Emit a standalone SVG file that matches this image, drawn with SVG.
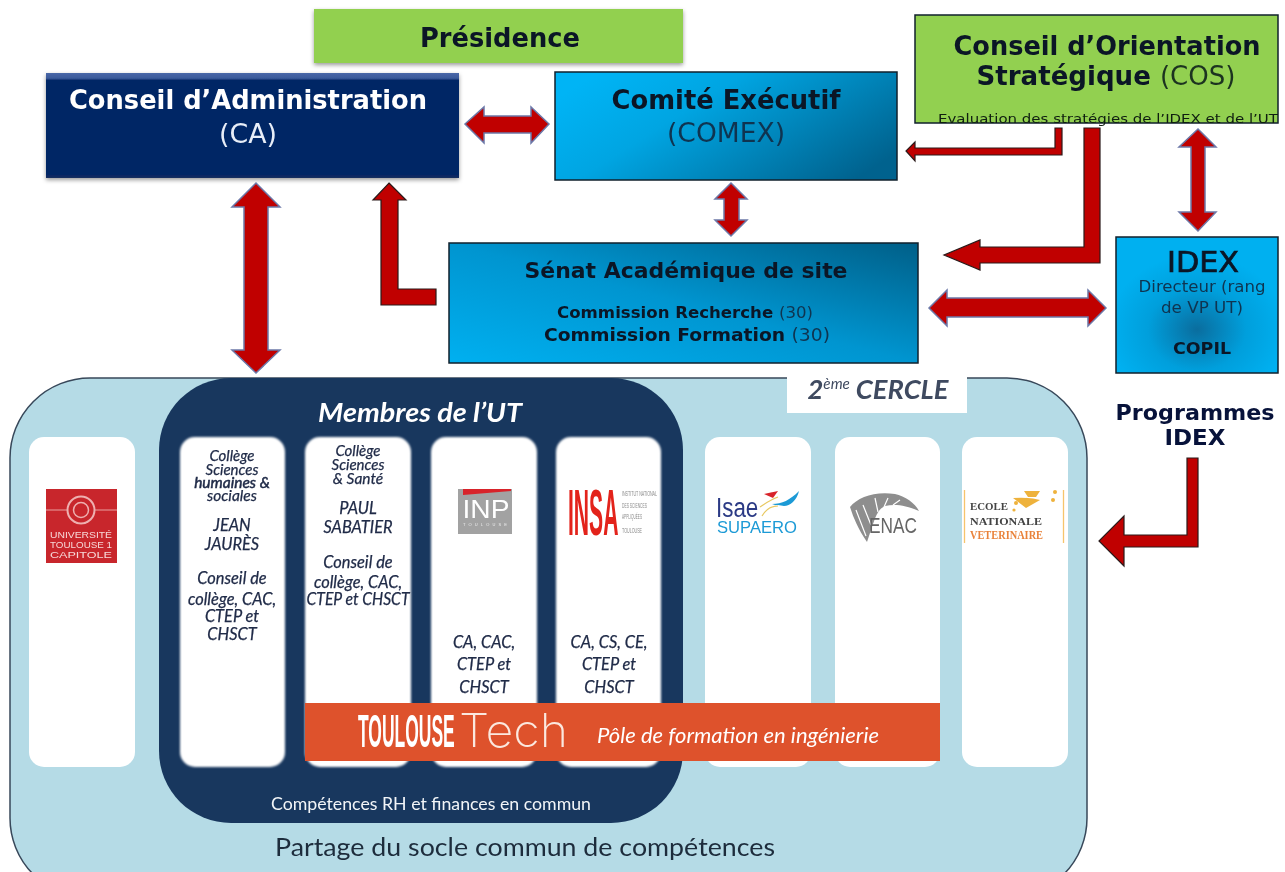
<svg xmlns="http://www.w3.org/2000/svg" width="1285" height="872" viewBox="0 0 1285 872">
<style>
.h{font-family:"DejaVu Sans",Verdana,sans-serif;font-weight:700;fill:#0b1626;text-anchor:middle}
.n{font-family:"DejaVu Sans",Verdana,sans-serif;font-weight:400;fill:#0f3450;text-anchor:middle}
.l{font-family:Lato,"Open Sans",sans-serif;font-style:italic;fill:#202b48;stroke:#202b48;stroke-width:.25;text-anchor:middle;font-size:16.400px}
.t{font-family:Lato,"Open Sans",sans-serif;text-anchor:middle}
.s{font-family:"Liberation Sans",sans-serif}
.card{fill:#fff}
.aB{fill:#c00000;stroke:#6c78a8;stroke-width:1.5;stroke-linejoin:miter}
.aD{fill:#c00000;stroke:#2a1a1a;stroke-width:1.2;stroke-linejoin:miter}
.box{stroke:#10202c;stroke-width:1.5}
</style>
<defs>
<filter id="soft" filterUnits="userSpaceOnUse" x="0" y="0" width="1285" height="872" color-interpolation-filters="sRGB"><feGaussianBlur stdDeviation=".45"/></filter>
<filter id="sh" x="-5%" y="-10%" width="110%" height="125%"><feDropShadow dx="0" dy="2" stdDeviation="2" flood-color="#000" flood-opacity=".4"/></filter>
<filter id="glow" x="-10%" y="-10%" width="120%" height="120%"><feGaussianBlur stdDeviation="1"/></filter>
<linearGradient id="gC" x1="0" y1="0.25" x2="1" y2="0.75"><stop offset="0" stop-color="#00b4f5"/><stop offset=".35" stop-color="#00a5e2"/><stop offset="1" stop-color="#00628e"/></linearGradient>
<linearGradient id="gS" x1="1" y1="0" x2="0" y2="1"><stop offset="0" stop-color="#005f88"/><stop offset=".5" stop-color="#0095d0"/><stop offset="1" stop-color="#00b0f0"/></linearGradient>
<radialGradient id="gI" cx=".5" cy=".68" r=".55"><stop offset="0" stop-color="#0a6d9e"/><stop offset=".55" stop-color="#009fdc"/><stop offset="1" stop-color="#00b0f0"/></radialGradient>
<linearGradient id="gA" x1="0" y1="0" x2="0" y2="1"><stop offset="0" stop-color="#4a68a8"/><stop offset=".05" stop-color="#3a5a9a"/><stop offset=".07" stop-color="#042565"/><stop offset=".97" stop-color="#042565"/><stop offset="1" stop-color="#16305f"/></linearGradient>
</defs>
<g id="diagram" filter="url(#soft)">
<rect width="1285" height="872" fill="#fff"/>
<g id="presidence">
<rect x="314" y="9" width="369" height="54" fill="#92d050" filter="url(#sh)"/>
<text class="h" x="500" y="47" font-size="26" textLength="160" lengthAdjust="spacingAndGlyphs">Présidence</text>
</g>
<g id="ca">
<rect x="46" y="73" width="413" height="105" fill="url(#gA)" filter="url(#sh)"/>
<text class="h" x="248" y="109" font-size="27" style="fill:#fff" textLength="358" lengthAdjust="spacingAndGlyphs">Conseil d’Administration</text>
<text class="n" x="248" y="143" font-size="27" style="fill:#e8eef8" textLength="58" lengthAdjust="spacingAndGlyphs">(CA)</text>
</g>
<g id="comex">
<rect class="box" x="555" y="72" width="342" height="108" fill="url(#gC)"/>
<text class="h" x="726" y="109" font-size="27" textLength="229" lengthAdjust="spacingAndGlyphs">Comité Exécutif</text>
<text class="n" x="726" y="142" font-size="27" textLength="118" lengthAdjust="spacingAndGlyphs">(COMEX)</text>
</g>
<g id="cos">
<rect class="box" x="915" y="15" width="363" height="108" fill="#92d050"/>
<text class="h" x="1107" y="55" font-size="27" textLength="307" lengthAdjust="spacingAndGlyphs">Conseil d’Orientation</text>
<text x="1106" y="85" font-size="27" class="h" textLength="259" lengthAdjust="spacingAndGlyphs">Stratégique <tspan font-weight="400" fill="#1c3320">(COS)</tspan></text>
<text class="n" x="1108" y="123" font-size="13" style="fill:#0f1e10" textLength="340" lengthAdjust="spacingAndGlyphs">Evaluation des stratégies de l’IDEX et de l’UT</text>
</g>
<g id="senat">
<rect class="box" x="449" y="243" width="469" height="120" fill="url(#gS)"/>
<text class="h" x="686" y="278" font-size="21" textLength="323" lengthAdjust="spacingAndGlyphs">Sénat Académique de site</text>
<text class="h" x="685" y="318" font-size="15" textLength="256" lengthAdjust="spacingAndGlyphs">Commission Recherche <tspan font-weight="400" fill="#0f3450">(30)</tspan></text>
<text class="h" x="687" y="341" font-size="17" textLength="286" lengthAdjust="spacingAndGlyphs">Commission Formation <tspan font-weight="400" fill="#0f3450">(30)</tspan></text>
</g>
<g id="idex">
<rect class="box" x="1116" y="237" width="162" height="136" fill="url(#gI)"/>
<text class="n" x="1203" y="272" font-size="28" style="fill:#0b1626;stroke:#0b1626;stroke-width:.7" textLength="72" lengthAdjust="spacingAndGlyphs">IDEX</text>
<text class="n" x="1202" y="292" font-size="15" textLength="127" lengthAdjust="spacingAndGlyphs">Directeur (rang</text>
<text class="n" x="1202" y="313" font-size="15" textLength="82" lengthAdjust="spacingAndGlyphs">de VP UT)</text>
<text class="h" x="1202" y="354" font-size="15" textLength="58" lengthAdjust="spacingAndGlyphs">COPIL</text>
</g>
<g id="programmes-idex">
<text class="h" x="1195" y="420" font-size="21" style="fill:#07123a" textLength="159" lengthAdjust="spacingAndGlyphs">Programmes</text>
<text class="h" x="1195" y="445" font-size="21" style="fill:#07123a" textLength="61" lengthAdjust="spacingAndGlyphs">IDEX</text>
</g>

<g id="cercle">
<rect x="10" y="378" width="1077" height="520" rx="80" fill="#b5dbe6" stroke="#38485a" stroke-width="1.5"/>
<rect x="787" y="370" width="180" height="43" fill="#fff"/>
<text class="t" x="878" y="399" font-size="27" font-style="italic" font-weight="700" fill="#3f4a60" textLength="141" lengthAdjust="spacingAndGlyphs">2<tspan font-size="15" dy="-10" font-weight="400">ème</tspan><tspan dy="10"> CERCLE</tspan></text>
<text class="t" x="525" y="856" font-size="25" fill="#1d2c3c" textLength="500" lengthAdjust="spacingAndGlyphs">Partage du socle commun de compétences</text>
</g>
<g id="membres">
<rect x="159" y="378" width="524" height="445" rx="72" fill="#18375e"/>
<text class="t" x="420" y="422" font-size="27" font-style="italic" font-weight="700" fill="#fff" textLength="204" lengthAdjust="spacingAndGlyphs">Membres de l’UT</text>
<text class="t" x="431" y="810" font-size="17" fill="#f2f5f8" textLength="320" lengthAdjust="spacingAndGlyphs">Compétences RH et finances en commun</text>
</g>

<g id="ut1">
<rect class="card" x="29" y="437" width="106" height="330" rx="15"/>
<rect x="46" y="489" width="71" height="74" fill="#c8262c"/>
<path d="M46 510H117" stroke="#e9a0a0" stroke-width="1"/>
<circle cx="81" cy="510" r="13.500" fill="#c8262c" stroke="#eeb0b0" stroke-width="2"/>
<circle cx="81" cy="510" r="7.500" fill="none" stroke="#eeb0b0" stroke-width="1.500"/>
<g class="s" fill="#f6d8d8" font-size="9.500" text-anchor="middle">
<text x="81" y="538" textLength="62" lengthAdjust="spacingAndGlyphs">UNIVERSITÉ</text>
<text x="81" y="548" textLength="62" lengthAdjust="spacingAndGlyphs">TOULOUSE 1</text>
<text x="81" y="558" textLength="62" lengthAdjust="spacingAndGlyphs">CAPITOLE</text>
</g>
</g>
<g id="jean-jaures">
<rect x="180" y="437" width="105" height="330" rx="15" fill="#fff" filter="url(#glow)"/>
<text class="l" x="232" y="461" style="font-size:15px">Collège</text>
<text class="l" x="232" y="475" style="font-size:15px">Sciences</text>
<text class="l" x="232" y="488" style="font-size:15.500px;stroke-width:.5">humaines &amp;</text>
<text class="l" x="232" y="501" style="font-size:15.500px">sociales</text>
<text class="l" x="232" y="531">JEAN</text>
<text class="l" x="232" y="550">JAURÈS</text>
<text class="l" x="232" y="584">Conseil de</text>
<text class="l" x="232" y="605">collège, CAC,</text>
<text class="l" x="232" y="622">CTEP et</text>
<text class="l" x="232" y="640">CHSCT</text>
</g>
<g id="paul-sabatier">
<rect x="305" y="437" width="106" height="330" rx="15" fill="#fff" filter="url(#glow)"/>
<text class="l" x="358" y="456" style="font-size:15px">Collège</text>
<text class="l" x="358" y="470" style="font-size:15px">Sciences</text>
<text class="l" x="358" y="484" style="font-size:15.500px">&amp; Santé</text>
<text class="l" x="358" y="514">PAUL</text>
<text class="l" x="358" y="533">SABATIER</text>
<text class="l" x="358" y="568">Conseil de</text>
<text class="l" x="358" y="588">collège, CAC,</text>
<text class="l" x="358" y="605" textLength="103" lengthAdjust="spacingAndGlyphs">CTEP et CHSCT</text>
</g>
<g id="inp">
<rect x="431" y="437" width="106" height="330" rx="15" fill="#fff" filter="url(#glow)"/>
<rect x="458" y="489" width="54" height="45" fill="#a2a2a2"/>
<path d="M463 489H511V491L463 495Z" fill="#d8232a"/>
<text class="s" x="486" y="518" font-size="25" fill="#fff" text-anchor="middle" textLength="47" lengthAdjust="spacingAndGlyphs">INP</text>
<text class="s" x="485" y="526" font-size="4" fill="#eee" text-anchor="middle" textLength="44">TOULOUSE</text>
<text class="l" x="484" y="648">CA, CAC,</text>
<text class="l" x="484" y="670">CTEP et</text>
<text class="l" x="484" y="693">CHSCT</text>
</g>
<g id="insa">
<rect x="556" y="437" width="105" height="330" rx="15" fill="#fff" filter="url(#glow)"/>
<text class="s" transform="translate(568 535) scale(.33 1)" font-size="64" font-weight="700" fill="#e3231b">INSA</text>
<g class="s" fill="#8a8a8a" font-size="7">
<text x="622" y="496" textLength="35" lengthAdjust="spacingAndGlyphs">INSTITUT NATIONAL</text>
<text x="622" y="508" textLength="25" lengthAdjust="spacingAndGlyphs">DES SCIENCES</text>
<text x="622" y="519" textLength="20" lengthAdjust="spacingAndGlyphs">APPLIQUÉES</text>
<text x="622" y="533" textLength="20" lengthAdjust="spacingAndGlyphs">TOULOUSE</text>
</g>
<text class="l" x="609" y="648">CA, CS, CE,</text>
<text class="l" x="609" y="670">CTEP et</text>
<text class="l" x="609" y="693">CHSCT</text>
</g>
<g id="isae">
<rect class="card" x="705" y="437" width="106" height="330" rx="15"/>
<text class="s" transform="translate(716 517) scale(.8 1)" font-size="28" fill="#2b3a85">Isae</text>
<text class="s" x="757" y="533" font-size="17" fill="#1c9ad6" text-anchor="middle" textLength="80" lengthAdjust="spacingAndGlyphs">SUPAERO</text>
<path d="M764 494L778 491L773 498Z" fill="#d8232a"/>
<path d="M772 504C782 504 790 500 799 491C797 500 790 506 784 506C780 505 776 506 772 504Z" fill="#1c9ad6"/>
<path d="M760 507Q770 500 778 497M762 516Q768 506 778 506" fill="none" stroke="#e8c860" stroke-width="1.200"/>
</g>
<g id="enac">
<rect class="card" x="835" y="437" width="105" height="330" rx="15"/>
<path d="M850 507C858 497 875 491 895 494C905 496 915 503 919 511C905 505 895 504 885 506C876 510 874 522 867 542C860 532 854 520 850 507Z" fill="#8e8e8e"/>
<path d="M856 510L866 536M863 505L871 525M875 498L878 512M888 498L884 507M900 500L893 505" stroke="#fff" stroke-width="1.200" fill="none"/>
<text class="s" x="893" y="533" font-size="22" fill="#666" text-anchor="middle" textLength="48" lengthAdjust="spacingAndGlyphs">ENAC</text>
</g>
<g id="env">
<rect class="card" x="962" y="437" width="106" height="330" rx="15"/>
<path d="M964.500 490V543M1063.500 490V543" stroke="#f6c46c" stroke-width="1.300"/>
<path d="M1013 498Q1030 497 1040 500L1026 508ZM1024 491H1040L1036 497L1028 497Z" fill="#eeb23c"/>
<circle cx="1055" cy="492" r="2" fill="#eeb23c"/><circle cx="1053" cy="500" r="2" fill="#eeb23c"/><circle cx="1016" cy="503" r="2" fill="#eeb23c"/><circle cx="1014" cy="510" r="1.600" fill="#eeb23c"/>
<g font-family="'Liberation Serif',serif" font-weight="700">
<text x="970" y="510" font-size="11" fill="#444" textLength="38" lengthAdjust="spacingAndGlyphs">ECOLE</text>
<text x="970" y="525" font-size="11" fill="#444" textLength="72" lengthAdjust="spacingAndGlyphs">NATIONALE</text>
<text x="970" y="539" font-size="12" fill="#e9823a" textLength="73" lengthAdjust="spacingAndGlyphs">VETERINAIRE</text>
</g>
</g>
<g id="toulouse-tech">
<rect x="305" y="703" width="635" height="58" fill="#de522c"/>
<text class="s" transform="translate(358 747) scale(.38 1)" font-size="46" font-weight="700" fill="#fff">TOULOUSE</text>
<text x="459" y="747" font-size="46" fill="#fbe8df" font-family="Inter,'Liberation Sans',sans-serif" font-weight="200" textLength="109" lengthAdjust="spacingAndGlyphs">Tech</text>
<text class="t" x="738" y="743" font-size="21" font-style="italic" fill="#fff" textLength="282" lengthAdjust="spacingAndGlyphs">Pôle de formation en ingénierie</text>
</g>

<g id="connectors">
<path class="aB" d="M465 124L484 107V116H531V107L549 124L531 143V133H484V143Z"/>
<path class="aB" d="M256 183L280 207H268V350H280L256 373L232 350H244V207H232Z"/>
<path class="aD" d="M389 183L406 200H398V289H436V305H381V200H373Z"/>
<path class="aB" d="M731 183L747 199H739V220H747L731 236L715 220H724V199H715Z"/>
<path class="aD" d="M1062 128V155H915V161L906 151L915 142V148H1055V128Z"/>
<path class="aD" d="M1100 128V263H980V270L944 255L980 240V247H1084V128Z"/>
<path class="aB" d="M1198 129L1216 147H1205V212H1216L1198 231L1179 212H1191V147H1179Z"/>
<path class="aB" d="M929 308L947 290V298H1088V290L1106 308L1088 326V317H947V326Z"/>
<path class="aD" d="M1187 458H1198V547H1124V566L1099 541L1124 516V535H1187Z"/>
</g>
</g>
</svg>
